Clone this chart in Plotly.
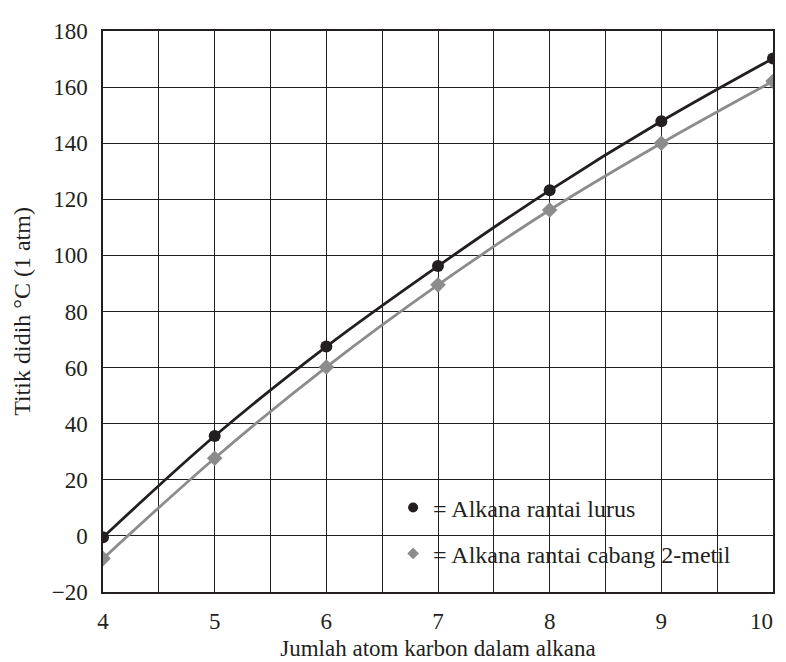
import plotly.graph_objects as go

# jumlah atom karbon
karbon = [4, 5, 6, 7, 8, 9, 10]
# titik didih (°C, 1 atm)
lurus = [-0.5, 35.6, 67.5, 96.2, 123.2, 147.8, 170.2]
cabang = [-8.1, 27.7, 60.2, 89.5, 116.2, 140.0, 162.1]

x_ticks = [4, 4.5, 5, 5.5, 6, 6.5, 7, 7.5, 8, 8.5, 9, 9.5, 10]
x_text = ["4", "", "5", "", "6", "", "7", "", "8", "", "9", "", ""]
y_ticks = [-20, 0, 20, 40, 60, 80, 100, 120, 140, 160, 180]
y_text = ["\u221220", "0", "20", "40", "60", "80", "100", "120", "140", "160", "180"]

hitam = "#231f20"
abu = "#8c8c8c"
font = "Liberation Serif"

fig = go.Figure()

fig.add_trace(go.Scatter(x=karbon, y=lurus, mode="lines+markers",
                         line=dict(color=hitam, width=2.8, shape="spline"),
                         marker=dict(color=hitam, size=12, symbol="circle"),
                         showlegend=False))
fig.add_trace(go.Scatter(x=karbon, y=cabang, mode="lines+markers",
                         line=dict(color=abu, width=2.8, shape="spline"),
                         marker=dict(color=abu, size=12, symbol="diamond"),
                         showlegend=False))

# legenda: hanya penanda
fig.add_trace(go.Scatter(x=[None], y=[None], mode="markers",
                         marker=dict(color=hitam, size=10, symbol="circle"),
                         name="= Alkana rantai lurus", legend="legend"))
fig.add_trace(go.Scatter(x=[None], y=[None], mode="markers",
                         marker=dict(color=abu, size=9, symbol="diamond"),
                         name="= Alkana rantai cabang 2-metil", legend="legend2"))

# label "10" rata kanan pada ujung sumbu
fig.add_annotation(x=10, y=0, xref="x", yref="paper", text="10", showarrow=False,
                   xanchor="right", yanchor="top", yshift=-15, xshift=2,
                   font=dict(family=font, size=23, color=hitam))

leg = dict(xanchor="left", yanchor="middle", bgcolor="rgba(0,0,0,0)",
           font=dict(family=font, size=24, color=hitam), itemwidth=30)
fig.update_layout(
    width=786, height=662,
    margin=dict(l=95, r=21, t=11, b=78),
    paper_bgcolor="white", plot_bgcolor="white",
    font=dict(family=font, size=23, color=hitam),
    legend=dict(x=0.433, y=0.150, **leg),
    legend2=dict(x=0.433, y=0.068, **leg),
    xaxis=dict(range=[4, 10], tickvals=x_ticks, ticktext=x_text,
               showgrid=True, gridcolor=hitam, gridwidth=1.3,
               showline=True, linecolor=hitam, linewidth=1.5, mirror=True,
               zeroline=False, ticks="", ticklabelstandoff=8,
               tickfont=dict(family=font, size=23),
               title=dict(text="Jumlah atom karbon dalam alkana", standoff=7,
                          font=dict(family=font, size=23))),
    yaxis=dict(range=[-20, 180], tickvals=y_ticks, ticktext=y_text,
               showgrid=True, gridcolor=hitam, gridwidth=1.3,
               showline=True, linecolor=hitam, linewidth=1.5, mirror=True,
               zeroline=False, ticks="", ticklabelstandoff=9,
               tickfont=dict(family=font, size=23),
               title=dict(text="Titik didih °C (1 atm)", standoff=14,
                          font=dict(family=font, size=24))),
)

fig.write_html("out.html")
